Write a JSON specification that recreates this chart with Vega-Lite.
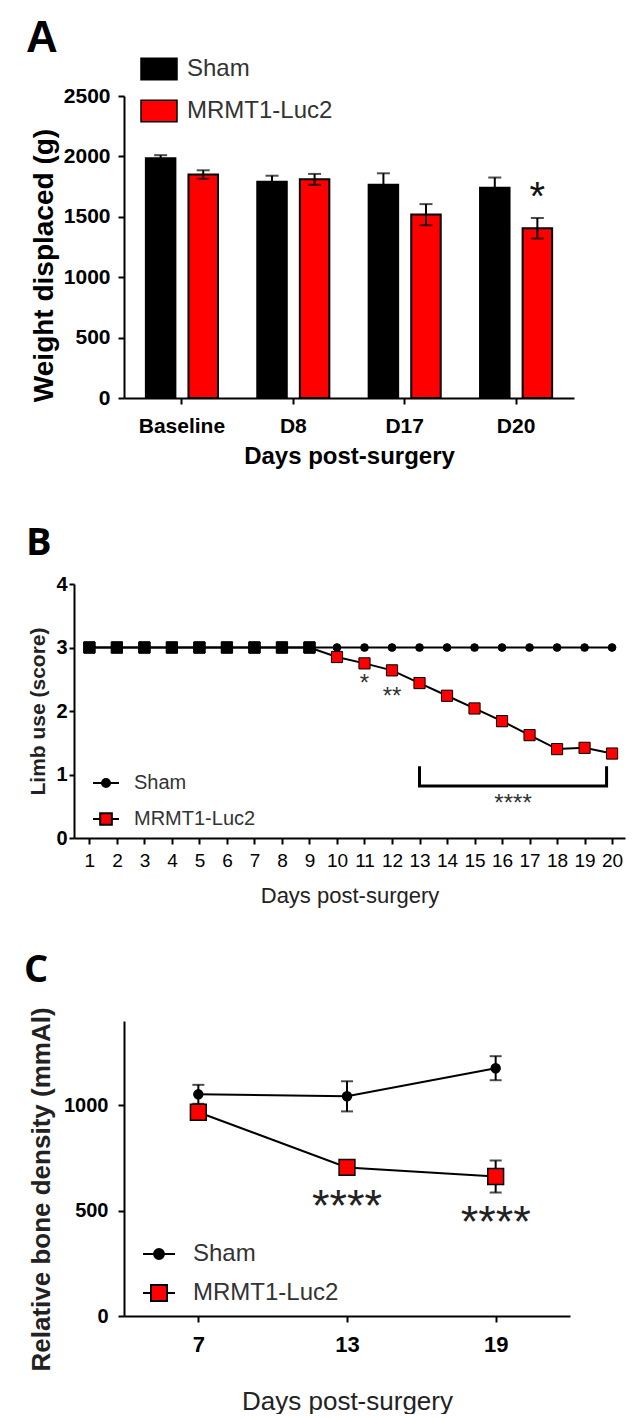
{
  "$schema": "https://vega.github.io/schema/vega-lite/v6.json",
  "background": "white",
  "padding": {"left": 24, "top": 17, "right": 0, "bottom": 0},
  "spacing": 45,
  "config": {
    "view": {"stroke": null},
    "font": "Liberation Sans",
    "axis": {"domainColor": "black", "domainWidth": 2, "tickColor": "black", "tickWidth": 2, "tickSize": 6, "labelColor": "black", "titleColor": "black", "grid": false, "labelFont": "Liberation Sans", "titleFont": "Liberation Sans"},
    "legend": {"labelFont": "Liberation Sans", "labelColor": "#333333", "padding": 0}
  },
  "resolve": {
    "scale": {"x": "independent", "y": "independent", "fill": "independent", "xOffset": "independent"},
    "axis": {"x": "independent", "y": "independent"},
    "legend": {"fill": "independent"}
  },
  "datasets": {
    "barsA": [
      {"day": "Baseline", "group": "Sham", "mean": 1985, "lo": 1960, "hi": 2010},
      {"day": "Baseline", "group": "MRMT1-Luc2", "mean": 1850, "lo": 1815, "hi": 1885},
      {"day": "D8", "group": "Sham", "mean": 1790, "lo": 1740, "hi": 1840},
      {"day": "D8", "group": "MRMT1-Luc2", "mean": 1810, "lo": 1765, "hi": 1855},
      {"day": "D17", "group": "Sham", "mean": 1765, "lo": 1670, "hi": 1860},
      {"day": "D17", "group": "MRMT1-Luc2", "mean": 1520, "lo": 1430, "hi": 1605},
      {"day": "D20", "group": "Sham", "mean": 1740, "lo": 1655, "hi": 1825},
      {"day": "D20", "group": "MRMT1-Luc2", "mean": 1405, "lo": 1320, "hi": 1490}
    ],
    "starsA": [
      {"day": "D20", "group": "MRMT1-Luc2", "mean": 1560, "label": "*"}
    ],
    "limbB": [
      {"group": "Sham", "day": 1, "score": 3}, {"group": "Sham", "day": 2, "score": 3},
      {"group": "Sham", "day": 3, "score": 3}, {"group": "Sham", "day": 4, "score": 3},
      {"group": "Sham", "day": 5, "score": 3}, {"group": "Sham", "day": 6, "score": 3},
      {"group": "Sham", "day": 7, "score": 3}, {"group": "Sham", "day": 8, "score": 3},
      {"group": "Sham", "day": 9, "score": 3}, {"group": "Sham", "day": 10, "score": 3},
      {"group": "Sham", "day": 11, "score": 3}, {"group": "Sham", "day": 12, "score": 3},
      {"group": "Sham", "day": 13, "score": 3}, {"group": "Sham", "day": 14, "score": 3},
      {"group": "Sham", "day": 15, "score": 3}, {"group": "Sham", "day": 16, "score": 3},
      {"group": "Sham", "day": 17, "score": 3}, {"group": "Sham", "day": 18, "score": 3},
      {"group": "Sham", "day": 19, "score": 3}, {"group": "Sham", "day": 20, "score": 3},
      {"group": "MRMT1-Luc2", "day": 1, "score": 3}, {"group": "MRMT1-Luc2", "day": 2, "score": 3},
      {"group": "MRMT1-Luc2", "day": 3, "score": 3}, {"group": "MRMT1-Luc2", "day": 4, "score": 3},
      {"group": "MRMT1-Luc2", "day": 5, "score": 3}, {"group": "MRMT1-Luc2", "day": 6, "score": 3},
      {"group": "MRMT1-Luc2", "day": 7, "score": 3}, {"group": "MRMT1-Luc2", "day": 8, "score": 3},
      {"group": "MRMT1-Luc2", "day": 9, "score": 3}, {"group": "MRMT1-Luc2", "day": 10, "score": 2.85},
      {"group": "MRMT1-Luc2", "day": 11, "score": 2.75}, {"group": "MRMT1-Luc2", "day": 12, "score": 2.64},
      {"group": "MRMT1-Luc2", "day": 13, "score": 2.44}, {"group": "MRMT1-Luc2", "day": 14, "score": 2.24},
      {"group": "MRMT1-Luc2", "day": 15, "score": 2.04}, {"group": "MRMT1-Luc2", "day": 16, "score": 1.84},
      {"group": "MRMT1-Luc2", "day": 17, "score": 1.62}, {"group": "MRMT1-Luc2", "day": 18, "score": 1.40},
      {"group": "MRMT1-Luc2", "day": 19, "score": 1.42}, {"group": "MRMT1-Luc2", "day": 20, "score": 1.33}
    ],
    "starsB": [
      {"day": 11, "score": 2.31, "label": "*"},
      {"day": 12, "score": 2.11, "label": "**"},
      {"day": 16.4, "score": 0.425, "label": "****"}
    ],
    "bracketB": [
      {"day": 13, "score": 1.13, "o": 1},
      {"day": 13, "score": 0.82, "o": 2},
      {"day": 19.8, "score": 0.82, "o": 3},
      {"day": 19.8, "score": 1.13, "o": 4}
    ],
    "boneC": [
      {"group": "Sham", "day": 7, "bmd": 1052, "lo": 1007, "hi": 1097},
      {"group": "Sham", "day": 13, "bmd": 1043, "lo": 971, "hi": 1114},
      {"group": "Sham", "day": 19, "bmd": 1176, "lo": 1119, "hi": 1233},
      {"group": "MRMT1-Luc2", "day": 7, "bmd": 967, "lo": 952, "hi": 982},
      {"group": "MRMT1-Luc2", "day": 13, "bmd": 705, "lo": 690, "hi": 720},
      {"group": "MRMT1-Luc2", "day": 19, "bmd": 662, "lo": 586, "hi": 738}
    ],
    "starsC": [
      {"day": 13, "bmd": 452, "label": "****"},
      {"day": 19, "bmd": 376, "label": "****"}
    ]
  },
  "vconcat": [
    {
      "title": {"text": "A", "anchor": "start", "frame": "group", "dx": -98, "offset": -11, "fontSize": 44, "fontWeight": "bold", "font": "Liberation Sans", "color": "black"},
      "width": 450,
      "height": 302,
      "layer": [
        {
          "data": {"name": "barsA"},
          "mark": {"type": "bar", "stroke": "black", "strokeWidth": 2},
          "encoding": {
            "x": {"field": "day", "type": "nominal", "sort": ["Baseline", "D8", "D17", "D20"],
                  "scale": {"paddingInner": 0.2, "paddingOuter": 0.12},
                  "axis": {"title": "Days post-surgery", "titleFontSize": 24, "titleFontWeight": "bold", "labelFontSize": 21, "labelFontWeight": "bold", "labelAngle": 0, "labelPadding": 11, "titlePadding": 8}},
            "xOffset": {"field": "group", "type": "nominal", "sort": ["Sham", "MRMT1-Luc2"], "scale": {"paddingInner": 0.307, "paddingOuter": 0.2}},
            "y": {"field": "mean", "type": "quantitative", "scale": {"domain": [0, 2500], "nice": false},
                  "axis": {"title": "Weight displaced (g)", "format": "d", "values": [0, 500, 1000, 1500, 2000, 2500], "titleFontSize": 28, "titleFontWeight": "bold", "labelFontSize": 21, "labelFontWeight": "bold", "labelPadding": 8, "titlePadding": 5, "titleY": 169}},
            "fill": {"field": "group", "type": "nominal", "scale": {"domain": ["Sham", "MRMT1-Luc2"], "range": ["#000000", "#ff0000"]},
                     "legend": {"orient": "none", "legendX": 16, "legendY": -46, "title": null, "symbolType": "M-1,-0.6H1V0.6H-1Z", "symbolSize": 1296, "symbolStrokeColor": "black", "symbolStrokeWidth": 1.5, "labelFontSize": 24, "labelOffset": 9, "rowPadding": 9}}
          }
        },
        {
          "data": {"name": "barsA"},
          "mark": {"type": "rule", "color": "black", "strokeWidth": 2},
          "encoding": {
            "x": {"field": "day", "type": "nominal", "sort": ["Baseline", "D8", "D17", "D20"]},
            "xOffset": {"field": "group", "type": "nominal", "sort": ["Sham", "MRMT1-Luc2"]},
            "y": {"field": "lo", "type": "quantitative"},
            "y2": {"field": "hi"}
          }
        },
        {
          "data": {"name": "barsA"},
          "mark": {"type": "tick", "color": "black", "thickness": 2, "size": 13, "orient": "horizontal"},
          "encoding": {
            "x": {"field": "day", "type": "nominal", "sort": ["Baseline", "D8", "D17", "D20"]},
            "xOffset": {"field": "group", "type": "nominal", "sort": ["Sham", "MRMT1-Luc2"]},
            "y": {"field": "hi", "type": "quantitative"}
          }
        },
        {
          "data": {"name": "barsA"},
          "mark": {"type": "tick", "color": "black", "thickness": 2, "size": 13, "orient": "horizontal"},
          "encoding": {
            "x": {"field": "day", "type": "nominal", "sort": ["Baseline", "D8", "D17", "D20"]},
            "xOffset": {"field": "group", "type": "nominal", "sort": ["Sham", "MRMT1-Luc2"]},
            "y": {"field": "lo", "type": "quantitative"}
          }
        },
        {
          "data": {"name": "starsA"},
          "mark": {"type": "text", "fontSize": 40, "color": "#111111", "baseline": "alphabetic", "align": "center", "font": "Liberation Sans"},
          "encoding": {
            "x": {"field": "day", "type": "nominal", "sort": ["Baseline", "D8", "D17", "D20"]},
            "xOffset": {"field": "group", "type": "nominal", "sort": ["Sham", "MRMT1-Luc2"]},
            "y": {"field": "mean", "type": "quantitative"},
            "text": {"field": "label"}
          }
        }
      ]
    },
    {
      "title": {"text": ["", "B"], "lineHeight": 12, "anchor": "start", "frame": "group", "dx": -98, "offset": 11, "fontSize": 38, "fontWeight": "bold", "font": "Open Sans", "color": "black"},
      "width": 501,
      "height": 254,
      "layer": [
        {
          "data": {"name": "limbB"},
          "mark": {"type": "line", "color": "black", "strokeWidth": 2},
          "encoding": {
            "x": {"field": "day", "type": "quantitative", "scale": {"domain": [0.44, 20.47], "range": [-50, 501], "nice": false, "zero": false},
                  "axis": {"title": "Days post-surgery", "format": "d", "values": [1,2,3,4,5,6,7,8,9,10,11,12,13,14,15,16,17,18,19,20], "tickCount": 30, "labelOverlap": false, "titleFontSize": 22, "titleFontWeight": "normal", "titleColor": "#222222", "labelFontSize": 19, "labelPadding": 7, "titlePadding": 15}},
            "y": {"field": "score", "type": "quantitative", "scale": {"domain": [0, 4], "nice": false},
                  "axis": {"title": "Limb use (score)", "offset": 50, "format": "d", "values": [0, 1, 2, 3, 4], "titleFontSize": 21, "titleFontWeight": "bold", "titleColor": "#222222", "labelFontSize": 20, "labelFontWeight": "bold", "labelPadding": 2, "tickSize": 5, "titlePadding": 7}},
            "detail": {"field": "group"}
          }
        },
        {
          "data": {"name": "limbB"},
          "transform": [{"filter": "datum.group === 'Sham'"}],
          "mark": {"type": "point", "filled": true, "shape": "circle", "size": 60, "stroke": "black", "strokeWidth": 1, "opacity": 1},
          "encoding": {
            "x": {"field": "day", "type": "quantitative"},
            "y": {"field": "score", "type": "quantitative"},
            "fill": {"field": "group", "type": "nominal", "scale": {"domain": ["Sham", "MRMT1-Luc2"], "range": ["#000000", "#ff0000"]},
                     "legend": {"orient": "none", "legendX": -32, "legendY": 185, "title": null, "symbolSize": 676, "symbolStrokeColor": "black", "symbolStrokeWidth": 2, "labelFontSize": 20, "labelOffset": 14, "rowPadding": 12,
                                "symbolType": {"expr": "datum.value === 'Sham' ? 'M-1,0H1M0.31,0A0.31,0.31,0,1,1,-0.31,0A0.31,0.31,0,1,1,0.31,0Z' : 'M-1,0H-0.45M0.45,0H1M-0.45,-0.45H0.45V0.45H-0.45Z'"}}}
          }
        },
        {
          "data": {"name": "limbB"},
          "transform": [{"filter": "datum.group === 'MRMT1-Luc2'"}],
          "mark": {"type": "point", "filled": true, "shape": "square", "size": 125, "stroke": "black", "strokeWidth": 1, "opacity": 1},
          "encoding": {
            "x": {"field": "day", "type": "quantitative"},
            "y": {"field": "score", "type": "quantitative"},
            "fill": {"field": "group", "type": "nominal"}
          }
        },
        {
          "data": {"name": "limbB"},
          "transform": [{"filter": "datum.group === 'MRMT1-Luc2' && datum.day <= 9"}],
          "mark": {"type": "point", "filled": true, "shape": "square", "size": 125, "color": "black", "stroke": "black", "strokeWidth": 1, "opacity": 1},
          "encoding": {
            "x": {"field": "day", "type": "quantitative"},
            "y": {"field": "score", "type": "quantitative"}
          }
        },
        {
          "data": {"name": "bracketB"},
          "mark": {"type": "line", "color": "black", "strokeWidth": 3},
          "encoding": {
            "x": {"field": "day", "type": "quantitative"},
            "y": {"field": "score", "type": "quantitative"},
            "order": {"field": "o"}
          }
        },
        {
          "data": {"name": "starsB"},
          "mark": {"type": "text", "fontSize": 24, "color": "#333333", "baseline": "alphabetic", "align": "center", "font": "Liberation Sans"},
          "encoding": {
            "x": {"field": "day", "type": "quantitative"},
            "y": {"field": "score", "type": "quantitative"},
            "text": {"field": "label"}
          }
        }
      ]
    },
    {
      "title": {"text": "C", "anchor": "start", "frame": "group", "dx": -100, "offset": 17, "fontSize": 38, "fontWeight": "bold", "font": "Open Sans", "color": "black"},
      "width": 446,
      "height": 295,
      "layer": [
        {
          "data": {"name": "boneC"},
          "mark": {"type": "line", "color": "black", "strokeWidth": 2},
          "encoding": {
            "x": {"field": "day", "type": "quantitative", "scale": {"domain": [4, 22], "nice": false, "zero": false},
                  "axis": {"title": "Days post-surgery", "values": [7, 13, 19], "titleFontSize": 26, "titleFontWeight": "normal", "titleColor": "#222222", "labelFontSize": 22, "labelFontWeight": "bold", "labelPadding": 12, "titlePadding": 33}},
            "y": {"field": "bmd", "type": "quantitative", "scale": {"domain": [0, 1400], "nice": false},
                  "axis": {"title": "Relative bone density (mmAl)", "format": "d", "values": [0, 500, 1000], "titleFontSize": 26, "titleFontWeight": "bold", "titleColor": "#222222", "labelFontSize": 20, "labelFontWeight": "bold", "labelPadding": 10, "tickSize": 6, "titlePadding": 9, "titleY": 168}},
            "detail": {"field": "group"}
          }
        },
        {
          "data": {"name": "boneC"},
          "mark": {"type": "rule", "color": "black", "strokeWidth": 2},
          "encoding": {
            "x": {"field": "day", "type": "quantitative"},
            "y": {"field": "lo", "type": "quantitative"},
            "y2": {"field": "hi"}
          }
        },
        {
          "data": {"name": "boneC"},
          "mark": {"type": "tick", "color": "black", "thickness": 2, "size": 12, "orient": "horizontal"},
          "encoding": {
            "x": {"field": "day", "type": "quantitative"},
            "y": {"field": "hi", "type": "quantitative"}
          }
        },
        {
          "data": {"name": "boneC"},
          "mark": {"type": "tick", "color": "black", "thickness": 2, "size": 12, "orient": "horizontal"},
          "encoding": {
            "x": {"field": "day", "type": "quantitative"},
            "y": {"field": "lo", "type": "quantitative"}
          }
        },
        {
          "data": {"name": "boneC"},
          "transform": [{"filter": "datum.group === 'Sham'"}],
          "mark": {"type": "point", "filled": true, "shape": "circle", "size": 80, "stroke": "black", "strokeWidth": 1.5, "opacity": 1},
          "encoding": {
            "x": {"field": "day", "type": "quantitative"},
            "y": {"field": "bmd", "type": "quantitative"},
            "fill": {"field": "group", "type": "nominal", "scale": {"domain": ["Sham", "MRMT1-Luc2"], "range": ["#000000", "#ff0000"]},
                     "legend": {"orient": "none", "legendX": 18, "legendY": 216, "title": null, "symbolSize": 1024, "symbolStrokeColor": "black", "symbolStrokeWidth": 2, "labelFontSize": 24, "labelOffset": 17, "rowPadding": 10,
                                "symbolType": {"expr": "datum.value === 'Sham' ? 'M-1,0H1M0.31,0A0.31,0.31,0,1,1,-0.31,0A0.31,0.31,0,1,1,0.31,0Z' : 'M-1,0H-0.5M0.5,0H1M-0.5,-0.5H0.5V0.5H-0.5Z'"}}}
          }
        },
        {
          "data": {"name": "boneC"},
          "transform": [{"filter": "datum.group === 'MRMT1-Luc2'"}],
          "mark": {"type": "point", "filled": true, "shape": "square", "size": 250, "stroke": "black", "strokeWidth": 1.5, "opacity": 1},
          "encoding": {
            "x": {"field": "day", "type": "quantitative"},
            "y": {"field": "bmd", "type": "quantitative"},
            "fill": {"field": "group", "type": "nominal"}
          }
        },
        {
          "data": {"name": "starsC"},
          "mark": {"type": "text", "fontSize": 45, "color": "#222222", "baseline": "alphabetic", "align": "center", "font": "Liberation Sans"},
          "encoding": {
            "x": {"field": "day", "type": "quantitative"},
            "y": {"field": "bmd", "type": "quantitative"},
            "text": {"field": "label"}
          }
        }
      ]
    }
  ]
}
